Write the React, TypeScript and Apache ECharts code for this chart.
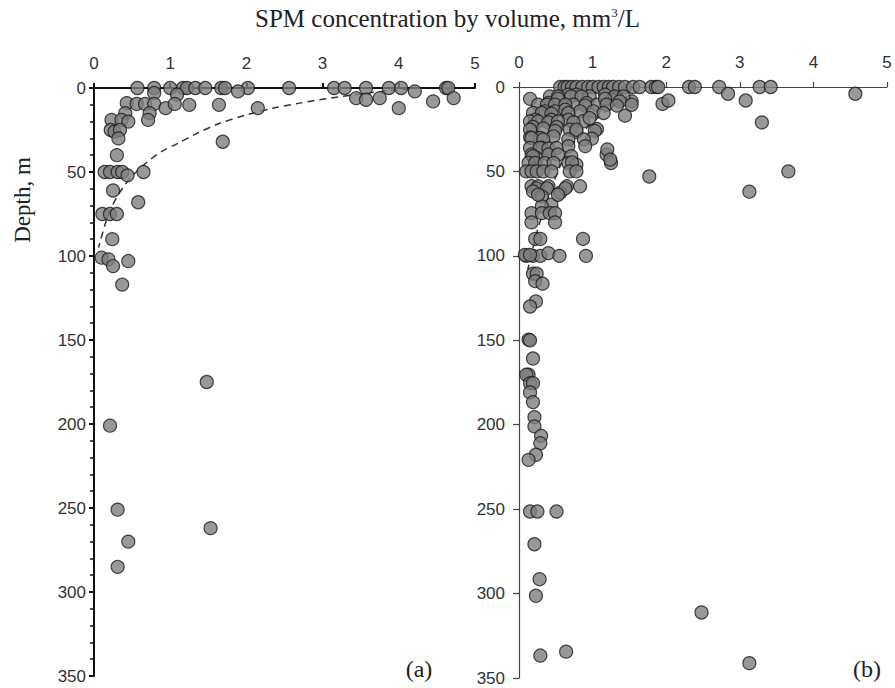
import React, { useEffect, useRef } from "react";
import * as echarts from "echarts";

// Panel (a): [SPM concentration mm3/L, depth m]
const panelA: [number, number][] = [
  [0.57, 0], [0.79, 0], [1.0, 0], [1.17, 0], [1.22, 0], [1.33, 0], [1.46, 0], [1.67, 0], [1.72, 0],
  [2.02, 0], [2.56, 0], [3.15, 0], [3.29, 0], [3.57, 0], [3.87, 0], [4.03, 0], [4.62, 0], [4.65, 0],
  [0.79, 3], [1.09, 4], [1.89, 2], [4.21, 2], [3.44, 6], [3.57, 7], [3.75, 6], [4.45, 8], [4.72, 6],
  [0.43, 9], [0.56, 9.5], [0.67, 9.5], [0.79, 9.5], [0.94, 12], [1.06, 9.5], [1.25, 10], [1.64, 10],
  [2.15, 12], [4.0, 12],
  [0.41, 15], [0.73, 15], [0.71, 19], [0.23, 19], [0.36, 19], [0.45, 20],
  [0.22, 25], [0.27, 26], [0.34, 25], [0.32, 30], [1.69, 32],
  [0.3, 40],
  [0.14, 50], [0.21, 50], [0.31, 50], [0.37, 50], [0.44, 52], [0.65, 50],
  [0.25, 61], [0.58, 68],
  [0.11, 75], [0.21, 75], [0.3, 75],
  [0.24, 90],
  [0.1, 101], [0.19, 102], [0.25, 106], [0.45, 103], [0.37, 117],
  [1.48, 175], [0.21, 201], [0.31, 251], [1.53, 262], [0.45, 270], [0.31, 285],
];

// Panel (b)
const panelB: [number, number][] = [
  [0.56, 0], [0.62, 0], [0.66, 0], [0.72, 0], [0.78, 0], [0.86, 0], [0.94, 0], [1.0, 0], [1.08, 0],
  [1.15, 0], [1.22, 0], [1.28, 0], [1.36, 0], [1.44, 0], [1.55, 0], [1.64, 0], [1.8, 0], [1.86, 0],
  [1.89, 0], [2.31, 0], [2.39, 0], [2.72, 0], [3.27, 0], [3.42, 0],
  [2.84, 4], [4.57, 4], [3.08, 8], [3.3, 21], [3.66, 50], [3.13, 62], [1.77, 53], [1.19, 40],
  [1.25, 45], [1.95, 10], [2.03, 8], [1.44, 17], [0.15, 7],
  [0.67, 4.5], [0.78, 4.5], [0.96, 5.5], [1.17, 4.5], [1.33, 6.5], [1.53, 8.5], [1.26, 7.5],
  [0.42, 5.6], [0.53, 5.6], [0.71, 5.6], [0.85, 5.6], [1.3, 5.6], [1.42, 5.6],
  [0.4, 9.5], [0.53, 7], [0.74, 10.5], [0.92, 9.5], [1.06, 10.5], [1.17, 7], [1.37, 8.5],
  [0.26, 10.5], [0.38, 10.5], [0.49, 10.5], [0.63, 10.5], [0.9, 11], [1.19, 10.5], [1.33, 11], [1.53, 10.5],
  [0.35, 14.4], [0.49, 14.4], [0.63, 13.4], [0.83, 14.4], [1.01, 14.4],
  [0.19, 15.4], [0.31, 15.4], [0.44, 15.8], [0.67, 15.4], [1.15, 15.4],
  [0.22, 19.4], [0.44, 19.4], [0.67, 19.4], [0.87, 20.3], [0.96, 18.4],
  [0.15, 20.4], [0.26, 20.4], [0.4, 21], [0.53, 20.4], [0.74, 21],
  [0.19, 23.7], [0.33, 24.5], [0.51, 23.7], [0.69, 25.3], [1.06, 24.9],
  [0.15, 25.3], [0.49, 26], [0.78, 26.5], [1.03, 26],
  [0.15, 29.8], [0.29, 30.2], [0.47, 29.2], [0.78, 25.3], [0.99, 30.6],
  [0.17, 30.2], [0.33, 31], [0.67, 31], [0.88, 31],
  [0.31, 36], [0.67, 35], [0.9, 35],
  [0.15, 36.1], [0.28, 36.1], [0.4, 36.5], [0.51, 36.1], [1.2, 37],
  [0.17, 40], [0.24, 42], [0.4, 40], [0.53, 40], [0.19, 41], [0.71, 41], [1.24, 43],
  [0.13, 45], [0.22, 45], [0.35, 45], [0.47, 45], [0.67, 45], [0.78, 46],
  [0.1, 50], [0.17, 50], [0.24, 50], [0.33, 50], [0.44, 50], [0.72, 44.6], [0.69, 50], [0.78, 50],
  [0.17, 58.8], [0.26, 58.8], [0.4, 58.8], [0.65, 58.8], [0.83, 58.8], [0.56, 62.6],
  [0.24, 60], [0.38, 60], [0.63, 60], [0.19, 61.8], [0.31, 64.8], [0.44, 69.7], [0.31, 70.7],
  [0.26, 63.8], [0.53, 63.8],
  [0.17, 74.7], [0.31, 74.7], [0.42, 74.7], [0.49, 74.7], [0.17, 80.2], [0.49, 80.2],
  [0.22, 90], [0.29, 90], [0.87, 90],
  [0.1, 100], [0.19, 100], [0.29, 100], [0.4, 98.4], [0.55, 100], [0.91, 100],
  [0.08, 99.4], [0.15, 99.4],
  [0.19, 110.6], [0.24, 110.6], [0.22, 115], [0.32, 116.5], [0.23, 127], [0.15, 130],
  [0.13, 149.6], [0.15, 150], [0.19, 160.8], [0.13, 170.4], [0.1, 170.4],
  [0.15, 175.4], [0.19, 175.4], [0.15, 180.9], [0.19, 186.6], [0.21, 195.5], [0.21, 201],
  [0.3, 206.6], [0.29, 211], [0.23, 217.8], [0.13, 220.8],
  [0.15, 251.4], [0.25, 251.4], [0.51, 251.4], [0.21, 270.8], [0.28, 291.5], [0.23, 301.3],
  [2.48, 311.2], [0.29, 336.7], [0.64, 334.4], [3.13, 341.2],
];

// Dashed fitted curves
const fitA: [number, number][] = [
  [4.3, 0], [3.9, 1.5], [3.5, 3.5], [3.1, 6], [2.7, 9], [2.35, 12], [2.0, 16], [1.65, 21],
  [1.35, 27], [1.1, 33], [0.88, 38], [0.7, 44], [0.53, 51], [0.4, 58], [0.3, 65], [0.21, 73],
  [0.14, 82], [0.09, 90], [0.06, 95],
];
const fitB: [number, number][] = [
  [1.5, 5], [1.25, 12], [1.0, 21], [0.78, 31], [0.58, 45], [0.4, 65], [0.25, 85], [0.12, 108],
];

const xTicks = [0, 5];
const depthRange = [0, 350];
const titleText = "SPM concentration by volume, mm";
const yName = "Depth, m";
const panelLabels = ["(a)", "(b)"];

const SANS = "Liberation Sans";
const SERIF = "Liberation Serif";

export default function App() {
  const ref = useRef<HTMLDivElement>(null);
  useEffect(() => {
    if (!ref.current) return;
    const chart = echarts.init(ref.current, null, { renderer: "svg" });

    const axisColors = ["#111", "#444"];
    const axisWidths = [2, 1.2];

    const xAxes = [0, 1].map((i) => ({
      gridIndex: i,
      type: "value",
      position: "top",
      min: xTicks[0],
      max: xTicks[1],
      interval: 1,
      axisLine: { show: true, onZero: false, lineStyle: { color: axisColors[i], width: axisWidths[i] } },
      axisTick: { show: true, inside: false, length: 5, lineStyle: { color: axisColors[i], width: axisWidths[i] } },
      axisLabel: { fontFamily: SANS, fontSize: 17, color: "#333", margin: 16 },
      splitLine: { show: false },
    }));

    const yAxes = [0, 1].map((i) => ({
      gridIndex: i,
      type: "value",
      inverse: true,
      min: depthRange[0],
      max: depthRange[1],
      interval: 50,
      axisLine: { show: true, onZero: false, lineStyle: { color: axisColors[i], width: axisWidths[i] } },
      axisTick: { show: true, inside: false, length: i === 0 ? 5 : 6, lineStyle: { color: axisColors[i], width: axisWidths[i] } },
      minorTick: { show: i === 0, splitNumber: 5, length: 4, lineStyle: { color: "#111", width: 1.5 } },
      axisLabel: { fontFamily: SANS, fontSize: 17, color: "#333", margin: i === 0 ? 8 : 14 },
      splitLine: { show: false },
      minorSplitLine: { show: false },
    }));

    const dotStyle = { color: "#7e7e7e", borderColor: "#1a1a1a", borderWidth: 1.2 };

    chart.setOption({
      animation: false,
      backgroundColor: "#fff",
      title: {
        text: "{t|" + titleText + "}{s|3}{t|/L}",
        left: "center",
        top: 1,
        textStyle: {
          fontWeight: "normal",
          rich: {
            t: { fontFamily: SERIF, fontSize: 25, fontWeight: "normal", color: "#222" },
            s: { fontFamily: SERIF, fontSize: 13, fontWeight: "normal", color: "#222", verticalAlign: "top", padding: [0, 0, 12, 0] },
          },
        },
      },
      grid: [
        { left: 94, top: 88, width: 381, height: 588 },
        { left: 519, top: 87, width: 368, height: 591 },
      ],
      xAxis: xAxes,
      yAxis: yAxes,
      series: [
        {
          type: "line", xAxisIndex: 0, yAxisIndex: 0, data: fitA, showSymbol: false, symbol: "none",
          smooth: 0.3, z: 1,
          lineStyle: { color: "#333", width: 1.5, type: [7, 5] },
        },
        {
          type: "scatter", xAxisIndex: 0, yAxisIndex: 0, data: panelA, symbolSize: 13, z: 2,
          itemStyle: dotStyle,
        },
        {
          type: "line", xAxisIndex: 1, yAxisIndex: 1, data: fitB, showSymbol: false, symbol: "none",
          smooth: 0.3, z: 1,
          lineStyle: { color: "#333", width: 1.5, type: [7, 5] },
        },
        {
          type: "scatter", xAxisIndex: 1, yAxisIndex: 1, data: panelB, symbolSize: 13, z: 2,
          itemStyle: dotStyle,
        },
      ],
      graphic: [
        {
          type: "text", x: 22, y: 200, rotation: Math.PI / 2,
          style: { text: yName, fontFamily: SERIF, fontSize: 23, fill: "#222", align: "center", verticalAlign: "middle" },
        },
        {
          type: "text", x: 419, y: 669,
          style: { text: panelLabels[0], fontFamily: SERIF, fontSize: 24, fill: "#222", align: "center", verticalAlign: "middle" },
        },
        {
          type: "text", x: 867, y: 669,
          style: { text: panelLabels[1], fontFamily: SERIF, fontSize: 24, fill: "#222", align: "center", verticalAlign: "middle" },
        },
      ],
    });
    return () => chart.dispose();
  }, []);
  return <div ref={ref} style={{ position: "fixed", left: 0, top: 0, width: 895, height: 688 }} />;
}
